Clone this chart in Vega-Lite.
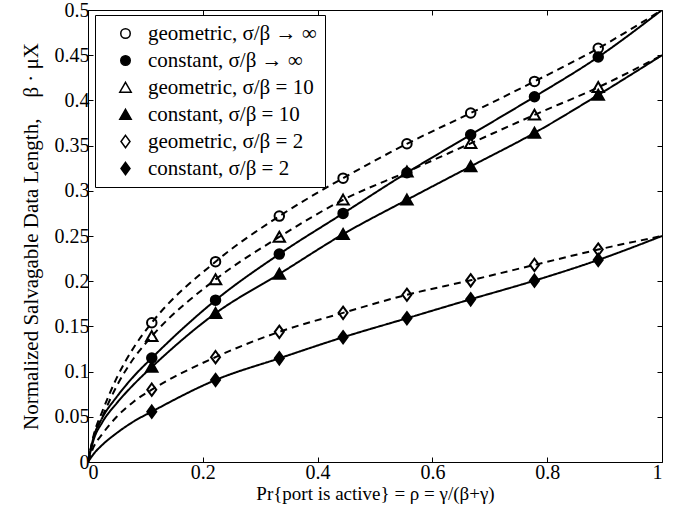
{
  "$schema": "https://vega.github.io/schema/vega-lite/v6.json",
  "width": 574,
  "height": 452,
  "autosize": {"type": "none"},
  "padding": {"left": 88, "top": 10, "right": 24, "bottom": 50},
  "background": "white",
  "config": {
    "view": {"stroke": "black", "strokeWidth": 1},
    "font": "Liberation Serif",
    "axis": {
      "labelFont": "Liberation Serif",
      "titleFont": "Liberation Serif",
      "labelFontSize": 20,
      "titleFontSize": 20,
      "titleFontWeight": "normal",
      "labelColor": "black",
      "titleColor": "black",
      "tickColor": "black",
      "grid": false,
      "domain": false,
      "tickSize": -5
    },
    "legend": {
      "labelFont": "Liberation Serif",
      "labelFontSize": 21,
      "labelColor": "black"
    }
  },
  "data": {
    "values": [
      {"series": "geometric, σ/β → ∞", "kind": "geometric", "rho": 0, "val": 0, "marker": false},
      {"series": "geometric, σ/β → ∞", "kind": "geometric", "rho": 0.01, "val": 0.030, "marker": false},
      {"series": "geometric, σ/β → ∞", "kind": "geometric", "rho": 0.025, "val": 0.056, "marker": false},
      {"series": "geometric, σ/β → ∞", "kind": "geometric", "rho": 0.05, "val": 0.093, "marker": false},
      {"series": "geometric, σ/β → ∞", "kind": "geometric", "rho": 0.08, "val": 0.127, "marker": false},
      {"series": "geometric, σ/β → ∞", "kind": "geometric", "rho": 0.1111, "val": 0.154, "marker": true},
      {"series": "geometric, σ/β → ∞", "kind": "geometric", "rho": 0.2222, "val": 0.2216, "marker": true},
      {"series": "geometric, σ/β → ∞", "kind": "geometric", "rho": 0.3333, "val": 0.272, "marker": true},
      {"series": "geometric, σ/β → ∞", "kind": "geometric", "rho": 0.4444, "val": 0.314, "marker": true},
      {"series": "geometric, σ/β → ∞", "kind": "geometric", "rho": 0.5556, "val": 0.352, "marker": true},
      {"series": "geometric, σ/β → ∞", "kind": "geometric", "rho": 0.6667, "val": 0.386, "marker": true},
      {"series": "geometric, σ/β → ∞", "kind": "geometric", "rho": 0.7778, "val": 0.421, "marker": true},
      {"series": "geometric, σ/β → ∞", "kind": "geometric", "rho": 0.8889, "val": 0.4576, "marker": true},
      {"series": "geometric, σ/β → ∞", "kind": "geometric", "rho": 1, "val": 0.5, "marker": false},

      {"series": "constant, σ/β → ∞", "kind": "constant", "rho": 0, "val": 0, "marker": false},
      {"series": "constant, σ/β → ∞", "kind": "constant", "rho": 0.01, "val": 0.028, "marker": false},
      {"series": "constant, σ/β → ∞", "kind": "constant", "rho": 0.025, "val": 0.049, "marker": false},
      {"series": "constant, σ/β → ∞", "kind": "constant", "rho": 0.05, "val": 0.072, "marker": false},
      {"series": "constant, σ/β → ∞", "kind": "constant", "rho": 0.08, "val": 0.095, "marker": false},
      {"series": "constant, σ/β → ∞", "kind": "constant", "rho": 0.1111, "val": 0.115, "marker": true},
      {"series": "constant, σ/β → ∞", "kind": "constant", "rho": 0.2222, "val": 0.179, "marker": true},
      {"series": "constant, σ/β → ∞", "kind": "constant", "rho": 0.3333, "val": 0.230, "marker": true},
      {"series": "constant, σ/β → ∞", "kind": "constant", "rho": 0.4444, "val": 0.275, "marker": true},
      {"series": "constant, σ/β → ∞", "kind": "constant", "rho": 0.5556, "val": 0.320, "marker": true},
      {"series": "constant, σ/β → ∞", "kind": "constant", "rho": 0.6667, "val": 0.362, "marker": true},
      {"series": "constant, σ/β → ∞", "kind": "constant", "rho": 0.7778, "val": 0.404, "marker": true},
      {"series": "constant, σ/β → ∞", "kind": "constant", "rho": 0.8889, "val": 0.448, "marker": true},
      {"series": "constant, σ/β → ∞", "kind": "constant", "rho": 1, "val": 0.5, "marker": false},

      {"series": "geometric, σ/β = 10", "kind": "geometric", "rho": 0, "val": 0, "marker": false},
      {"series": "geometric, σ/β = 10", "kind": "geometric", "rho": 0.01, "val": 0.027, "marker": false},
      {"series": "geometric, σ/β = 10", "kind": "geometric", "rho": 0.025, "val": 0.050, "marker": false},
      {"series": "geometric, σ/β = 10", "kind": "geometric", "rho": 0.05, "val": 0.084, "marker": false},
      {"series": "geometric, σ/β = 10", "kind": "geometric", "rho": 0.08, "val": 0.115, "marker": false},
      {"series": "geometric, σ/β = 10", "kind": "geometric", "rho": 0.1111, "val": 0.139, "marker": true},
      {"series": "geometric, σ/β = 10", "kind": "geometric", "rho": 0.2222, "val": 0.202, "marker": true},
      {"series": "geometric, σ/β = 10", "kind": "geometric", "rho": 0.3333, "val": 0.249, "marker": true},
      {"series": "geometric, σ/β = 10", "kind": "geometric", "rho": 0.4444, "val": 0.290, "marker": true},
      {"series": "geometric, σ/β = 10", "kind": "geometric", "rho": 0.5556, "val": 0.321, "marker": true},
      {"series": "geometric, σ/β = 10", "kind": "geometric", "rho": 0.6667, "val": 0.3525, "marker": true},
      {"series": "geometric, σ/β = 10", "kind": "geometric", "rho": 0.7778, "val": 0.384, "marker": true},
      {"series": "geometric, σ/β = 10", "kind": "geometric", "rho": 0.8889, "val": 0.4145, "marker": true},
      {"series": "geometric, σ/β = 10", "kind": "geometric", "rho": 1, "val": 0.45, "marker": false},

      {"series": "constant, σ/β = 10", "kind": "constant", "rho": 0, "val": 0, "marker": false},
      {"series": "constant, σ/β = 10", "kind": "constant", "rho": 0.01, "val": 0.025, "marker": false},
      {"series": "constant, σ/β = 10", "kind": "constant", "rho": 0.025, "val": 0.044, "marker": false},
      {"series": "constant, σ/β = 10", "kind": "constant", "rho": 0.05, "val": 0.065, "marker": false},
      {"series": "constant, σ/β = 10", "kind": "constant", "rho": 0.08, "val": 0.086, "marker": false},
      {"series": "constant, σ/β = 10", "kind": "constant", "rho": 0.1111, "val": 0.105, "marker": true},
      {"series": "constant, σ/β = 10", "kind": "constant", "rho": 0.2222, "val": 0.1645, "marker": true},
      {"series": "constant, σ/β = 10", "kind": "constant", "rho": 0.3333, "val": 0.208, "marker": true},
      {"series": "constant, σ/β = 10", "kind": "constant", "rho": 0.4444, "val": 0.252, "marker": true},
      {"series": "constant, σ/β = 10", "kind": "constant", "rho": 0.5556, "val": 0.290, "marker": true},
      {"series": "constant, σ/β = 10", "kind": "constant", "rho": 0.6667, "val": 0.327, "marker": true},
      {"series": "constant, σ/β = 10", "kind": "constant", "rho": 0.7778, "val": 0.364, "marker": true},
      {"series": "constant, σ/β = 10", "kind": "constant", "rho": 0.8889, "val": 0.406, "marker": true},
      {"series": "constant, σ/β = 10", "kind": "constant", "rho": 1, "val": 0.45, "marker": false},

      {"series": "geometric, σ/β = 2", "kind": "geometric", "rho": 0, "val": 0, "marker": false},
      {"series": "geometric, σ/β = 2", "kind": "geometric", "rho": 0.01, "val": 0.017, "marker": false},
      {"series": "geometric, σ/β = 2", "kind": "geometric", "rho": 0.025, "val": 0.031, "marker": false},
      {"series": "geometric, σ/β = 2", "kind": "geometric", "rho": 0.05, "val": 0.050, "marker": false},
      {"series": "geometric, σ/β = 2", "kind": "geometric", "rho": 0.08, "val": 0.067, "marker": false},
      {"series": "geometric, σ/β = 2", "kind": "geometric", "rho": 0.1111, "val": 0.080, "marker": true},
      {"series": "geometric, σ/β = 2", "kind": "geometric", "rho": 0.2222, "val": 0.116, "marker": true},
      {"series": "geometric, σ/β = 2", "kind": "geometric", "rho": 0.3333, "val": 0.144, "marker": true},
      {"series": "geometric, σ/β = 2", "kind": "geometric", "rho": 0.4444, "val": 0.165, "marker": true},
      {"series": "geometric, σ/β = 2", "kind": "geometric", "rho": 0.5556, "val": 0.185, "marker": true},
      {"series": "geometric, σ/β = 2", "kind": "geometric", "rho": 0.6667, "val": 0.201, "marker": true},
      {"series": "geometric, σ/β = 2", "kind": "geometric", "rho": 0.7778, "val": 0.218, "marker": true},
      {"series": "geometric, σ/β = 2", "kind": "geometric", "rho": 0.8889, "val": 0.235, "marker": true},
      {"series": "geometric, σ/β = 2", "kind": "geometric", "rho": 1, "val": 0.25, "marker": false},

      {"series": "constant, σ/β = 2", "kind": "constant", "rho": 0, "val": 0, "marker": false},
      {"series": "constant, σ/β = 2", "kind": "constant", "rho": 0.01, "val": 0.009, "marker": false},
      {"series": "constant, σ/β = 2", "kind": "constant", "rho": 0.025, "val": 0.019, "marker": false},
      {"series": "constant, σ/β = 2", "kind": "constant", "rho": 0.05, "val": 0.032, "marker": false},
      {"series": "constant, σ/β = 2", "kind": "constant", "rho": 0.08, "val": 0.045, "marker": false},
      {"series": "constant, σ/β = 2", "kind": "constant", "rho": 0.1111, "val": 0.0557, "marker": true},
      {"series": "constant, σ/β = 2", "kind": "constant", "rho": 0.2222, "val": 0.0907, "marker": true},
      {"series": "constant, σ/β = 2", "kind": "constant", "rho": 0.3333, "val": 0.1147, "marker": true},
      {"series": "constant, σ/β = 2", "kind": "constant", "rho": 0.4444, "val": 0.138, "marker": true},
      {"series": "constant, σ/β = 2", "kind": "constant", "rho": 0.5556, "val": 0.159, "marker": true},
      {"series": "constant, σ/β = 2", "kind": "constant", "rho": 0.6667, "val": 0.180, "marker": true},
      {"series": "constant, σ/β = 2", "kind": "constant", "rho": 0.7778, "val": 0.2006, "marker": true},
      {"series": "constant, σ/β = 2", "kind": "constant", "rho": 0.8889, "val": 0.2235, "marker": true},
      {"series": "constant, σ/β = 2", "kind": "constant", "rho": 1, "val": 0.25, "marker": false}
    ]
  },
  "layer": [
    {
      "mark": {"type": "line", "interpolate": "monotone", "color": "black", "strokeWidth": 2, "clip": true},
      "encoding": {
        "x": {
          "field": "rho", "type": "quantitative",
          "scale": {"domain": [0, 1], "nice": false, "zero": false},
          "axis": {
            "orient": "bottom",
            "title": "Pr{port is active} = ρ = γ/(β+γ)",
            "titleFontSize": 19,
            "values": [0, 0.2, 0.4, 0.6, 0.8, 1],
            "format": "~g",
            "labelPadding": 5,
            "titlePadding": 2
          }
        },
        "y": {
          "field": "val", "type": "quantitative",
          "scale": {"domain": [0, 0.5], "nice": false},
          "axis": {
            "orient": "left",
            "title": "Normalized Salvagable Data Length,\u00a0\u00a0\u00a0\u00a0β · μX",
            "titleFontSize": 21,
            "values": [0, 0.05, 0.1, 0.15, 0.2, 0.25, 0.3, 0.35, 0.4, 0.45, 0.5],
            "format": "~g",
            "labelPadding": 4,
            "titlePadding": 13
          }
        },
        "detail": {"field": "series"},
        "strokeDash": {
          "field": "kind", "type": "nominal",
          "scale": {"domain": ["geometric", "constant"], "range": [[7, 5], [1, 0]]},
          "legend": null
        }
      }
    },
    {
      "transform": [{"filter": "datum.marker"}],
      "mark": {"type": "point", "filled": true, "stroke": "black", "strokeWidth": 2, "size": 90, "opacity": 1},
      "encoding": {
        "x": {
          "field": "rho", "type": "quantitative",
          "axis": {"orient": "top", "labels": false, "title": null, "values": [0, 0.2, 0.4, 0.6, 0.8, 1]}
        },
        "y": {
          "field": "val", "type": "quantitative",
          "axis": {"orient": "right", "labels": false, "title": null, "values": [0, 0.05, 0.1, 0.15, 0.2, 0.25, 0.3, 0.35, 0.4, 0.45, 0.5]}
        },
        "shape": {
          "field": "series", "type": "nominal",
          "scale": {
            "domain": ["geometric, σ/β → ∞", "constant, σ/β → ∞", "geometric, σ/β = 10", "constant, σ/β = 10", "geometric, σ/β = 2", "constant, σ/β = 2"],
            "range": ["circle", "circle", "M0,-1.1L1.2,1L-1.2,1Z", "M0,-1.1L1.2,1L-1.2,1Z", "M0,-1.3L0.95,0L0,1.3L-0.95,0Z", "M0,-1.3L0.95,0L0,1.3L-0.95,0Z"]
          },
          "legend": {
            "title": null,
            "orient": "none",
            "legendX": 7,
            "legendY": 5,
            "padding": 8,
            "symbolOffset": 12,
            "labelOffset": 12,
            "rowPadding": 5,
            "symbolSize": 90,
            "strokeColor": "black",
            "fillColor": "white",
            "labelLimit": 400,
            "encode": {"symbols": {"update": {"stroke": {"value": "black"}, "strokeWidth": {"value": 2}}}}
          }
        },
        "fill": {
          "field": "series", "type": "nominal",
          "scale": {
            "domain": ["geometric, σ/β → ∞", "constant, σ/β → ∞", "geometric, σ/β = 10", "constant, σ/β = 10", "geometric, σ/β = 2", "constant, σ/β = 2"],
            "range": ["transparent", "black", "transparent", "black", "transparent", "black"]
          },
          "legend": {
            "title": null,
            "orient": "none",
            "legendX": 7,
            "legendY": 5,
            "padding": 8,
            "symbolOffset": 12,
            "labelOffset": 12,
            "rowPadding": 5,
            "symbolSize": 90,
            "strokeColor": "black",
            "fillColor": "white",
            "labelLimit": 400,
            "encode": {"symbols": {"update": {"stroke": {"value": "black"}, "strokeWidth": {"value": 2}}}}
          }
        }
      }
    }
  ]
}
